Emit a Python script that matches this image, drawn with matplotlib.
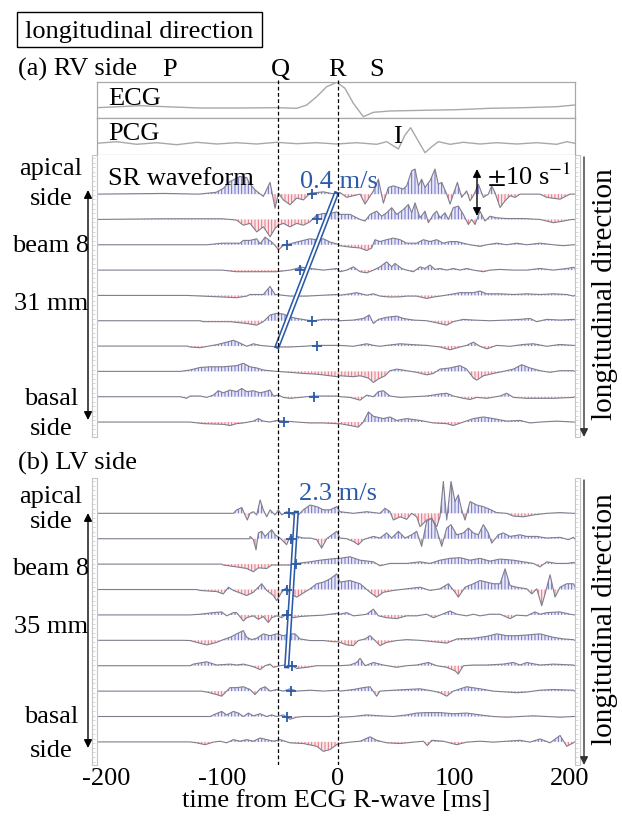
import numpy as np
import matplotlib.pyplot as plt
from matplotlib.patches import Rectangle

W, H = 622, 818
plt.rcParams['font.family'] = 'Liberation Serif'
plt.rcParams['mathtext.fontset'] = 'stix'
plt.rcParams['hatch.linewidth'] = 0.7

# ---- time axis / event markers (ms from ECG R-wave) ----
T0, T1 = -207.8, 204.3
q_time, r_time = -51.5, 0.0
wave_labels = ['P', 'Q', 'R', 'S']
wave_times = [-145, -50, -1, 33.6]

# ---- ECG / PCG (arbitrary units) ----
ecg_t = [-208, -170.7, -142, -119, -84.5, -52.9, -35.6, -27, -18.4, -9.8, -1.1, 6, 13.2, 21.8,
         30.5, 44.8, 73.6, 102.3, 131, 159.8, 188.5, 204.3]
ecg_v = [10.3, 12.3, 11, 10, 10, 10.3, 9.7, 13, 21.3, 31.3, 35.7, 29.7, 14.7, 1.3,
         5.7, 7, 7.7, 8.3, 9.7, 10.3, 11.3, 13]
pcg_t = [-208, -190.8, -173.6, -156.4, -139.1, -121.8, -104.6, -87.4, -70.1, -52.9, -35.6, -18.4,
         -1.1, 16.1, 33.3, 42, 52, 57.8, 62.6, 67.8, 75, 80.8, 86.5, 96.6, 108, 122.4, 136.8,
         154, 171.3, 188.5, 197.2, 204.3]
pcg_v = [11.7, 13.3, 10.7, 12.3, 10.3, 12.7, 11, 12.3, 11, 12.7, 11.3, 12.3,
         11, 12.3, 10.7, 13.3, 6, 20, 27.3, 16.7, 2.3, 8.3, 13.3, 10.7, 12.7, 11, 12.3,
         11, 12.3, 10.7, 13.3, 11.7]

# ---- RV side strain-rate waveforms [1/s], beams from apical to basal ----
rv1_t = [-208, -150, -120, -105, -99, -93, -84.5, -78.7, -76.5, -71.6, -64.4, -58.6, -54.3, -51.4,
         -47.1, -41.4, -35.6, -29.9, -24.1, -12.6, -6.9, -1.1, 1.7, 7.5, 19, 23.3, 30.5, 34.8,
         39.1, 43.4, 47.7, 56.3, 59.2, 63.5, 66.4, 69.3, 72.1, 75, 79.3, 83.6, 86.5, 89.4, 93.7,
         96.6, 99.4, 102.9, 106.6, 110.9, 113.8, 116.7, 121, 125.3, 129.6, 132.5, 135.3, 139.7,
         144, 148.3, 152.6, 157, 174.1, 179.9, 191.4, 200, 204]
rv1_sr = [0, 0.3, 0, 0.8, 2.5, 5.5, 7.7, 7.2, 4.8, 1.9, -1, 5.1, -6.1, 0.4,
          -2.5, -4.6, -1.7, -2.5, 0.4, 1, 0.4, 0, 0.7, -1.4, 0, -4.3, 1.4, 6.5,
          -3.9, 2.9, 3.6, 2.2, 3.6, 10.1, 10.9, 3.6, 6.5, 2.9, 5.8, 10.9, 4.3, 5.1, 0,
          -4.3, 0, 5.1, -1.4, 1.4, -2.9, -0.7, 4.3, -1.4, 0, 3.6, 0.7, -5.8,
          -2.9, -0.7, -1.4, 0, 0, -1.4, -2.2, 0, 0]
rv2_t = [-208, -150, -100, -93.1, -87.4, -81.6, -75.9, -70.1, -64.4, -58.6, -54.3, -51.4, -47.1,
         -41.4, -35.6, -29.9, -24.1, -18.4, -12.6, -6.9, -1.1, 1.7, 10.3, 19, 23.3, 27.6, 33.3,
         37.6, 41.9, 46.3, 50.6, 56.3, 60.6, 63.5, 66.4, 70.7, 75, 77.9, 82.2, 85.1, 87.9, 92.2,
         95.1, 99.4, 103.7, 108, 112.4, 115.2, 118.1, 122.4, 126.7, 131, 136.8, 145.4, 159.8,
         174.1, 185.6, 194.3, 201.4, 204]
rv2_sr = [0, 0.3, 0.3, 0, -0.3, -2.5, -1.7, -5.4, -3.2, -7.5, -3.9, -2.5, -1.7,
          -3.2, -1.7, -2.5, -1, 1.9, 2.6, 2.6, 3.3, 2.2, 2.2, 0, -0.7, 2.2, 3.6,
          1.4, 2.9, 5.1, 2.2, 4.3, 6.5, 2.9, 7.2, 0.7, 3.6, -1.4, 2.2, 3.6, 0.7, 2.9,
          0, 5.1, 5.8, 2.2, -2.2, 0, -2.2, 3.6, -0.7, 1.4, 0.7, 0.4, 0.4,
          0, -1.4, -0.7, 0, 0]
rv3_t = [-208, -113, -100, -84.5, -81.6, -75.9, -70.1, -67.2, -62.9, -57.2, -54.3, -51.4, -47.1,
         -41.4, -35.6, -29.9, -24.1, -18.4, -12.6, -6.9, -1.1, 1.7, 10.3, 19, 24.7, 29, 31.9,
         36.2, 41.9, 47.7, 53.5, 59.2, 67.8, 73.6, 79.3, 85.1, 90.8, 96.6, 102.3, 108, 113.8,
         122.4, 128.2, 136.8, 145.4, 154, 162.7, 174.2, 185.6, 194.3, 202.9, 204]
rv3_sr = [0, 0, 0.7, 0.7, 1.9, 1.9, 2.6, 0.4, 3.3, 1.2, -0.3, -2.2, -0.3,
          0.4, 1.2, 1.9, 2.6, 2.2, 2.6, 1.2, 0.4, -0.4, -1, -1.4, -2.5, -1.4, 2.2,
          1.4, 2.2, 2.9, 2.2, 0.7, 0.7, 2.2, 1.4, 2.2, 0.7, 1.4, 1.4, 0.7, 0,
          -0.7, 0, 0.7, 0, 0.7, 0, 0.7, 0, -0.4, 0, 0]
rv4_t = [-208, -100, -87.4, -60, -52.9, -41.4, -35.6, -32.8, -24.1, -12.6, -1.1, 1.7, 7.5, 13.2,
         19, 24.7, 30.5, 36.2, 41.9, 46.3, 49.1, 54.9, 59.2, 65, 70.7, 75, 79.3, 83.6, 87.9, 93.7,
         99.4, 105.2, 110.9, 116.7, 125.3, 131, 139.7, 151.2, 162.7, 174.2, 185.6, 197.2, 202.9, 204]
rv4_sr = [0, 0, -0.7, -0.7, -0.7, 0, 0.7, 1.4, 0.7, 0, 0.7, -0.7, 0, 1.4,
          -0.7, -1.2, 0, 1.4, 3.6, 1.4, 2.9, 0.7, 0, -0.7, 1.4, 0.7, 2.2, 0.3, 0.7, 0,
          0.7, 0, 0.7, 0, -0.7, 0, 0.3, 0, 0, 0.7, 0, 0.7, 1.2, 1]
rv5_t = [-208, -130, -98.9, -87.4, -78.7, -75.9, -64.4, -58.6, -54.3, -52.9, -41.4, -27, -12.6,
         -1.1, 1.7, 10.3, 16.1, 24.7, 30.5, 36.2, 44.8, 53.5, 59.2, 67.8, 76.4, 82.2, 87.9, 96.6,
         105.2, 116.7, 122.4, 128.2, 139.7, 151.2, 162.7, 174.2, 185.6, 197.2, 202.9, 204]
rv5_sr = [0, 0, -0.7, -1, -0.3, 0.4, 0.4, 3.9, 0.4, 0.4, -0.3, -0.3, 0.1,
          0.4, 0.1, 0.7, 1.2, 0.1, 0.7, -0.3, -0.7, -0.6, -0.3, -0.3, -1.3, -0.7, -0.3, 0.4,
          1.2, 1.2, 1.9, 0.7, 0.7, 0.4, 0.7, 0.4, 0.7, 0.4, -0.3, 0]
rv6_t = [-208, -119, -116, -93.1, -78.7, -70.1, -64.4, -58.6, -52.9, -47.1, -41.4, -35.6, -27,
         -21.3, -12.6, -1.1, 1.7, 13.2, 21.8, 27, 30.5, 34.8, 41.9, 50.6, 56.3, 65, 76.4, 85.1,
         93.7, 99.4, 108, 116.7, 131, 145.4, 156.9, 165.5, 171.3, 179.9, 191.4, 202.9, 204]
rv6_sr = [0, 0, -0.4, -0.4, -1.2, -1.9, -0.4, 2.5, 3.2, 2.9, 1.7, 1, 0.3,
          0, 0.6, 0.6, 0, 0.3, 1, 2.5, -1.2, 0.6, 1.5, 2, 1, 0.3, 0, -0.9,
          -1.9, -0.4, 0.6, 0.3, 0, 0.3, 0.6, 1, -0.4, 0.6, 0.3, 0.6, 0.5]
rv7_t = [-208, -130, -127.6, -119, -104.6, -96, -90.2, -84.5, -78.7, -73, -67.2, -58.6, -52.9,
         -41.4, -29.9, -18.4, -6.9, -1.1, 1.7, 13.2, 24.7, 30.5, 36.2, 41.9, 53.5, 65, 76.4,
         87.9, 96.6, 105.2, 110.9, 116.7, 122.4, 128.2, 136.8, 148.3, 159.8, 168.4, 179.9,
         191.4, 202.9, 204]
rv7_sr = [0, 0, -0.4, -0.7, 0.6, 1.7, 2.5, 1.3, -0.1, 1, 0.3, -0.1, -0.4,
          -0.4, -0.1, 0.3, 0.3, 0.3, 0.3, -0.1, 1, 0.3, -0.1, 0.3, 1, 0.6, 0.3,
          -0.4, -1.6, -0.4, 0.3, 1.7, -0.1, -1.2, 0.3, -0.1, 0.7, 1, -0.1,
          0.7, 0.3, 0.3]
rv8_t = [-208, -136, -127.6, -119, -110.3, -98.9, -87.4, -81.6, -75.9, -70.1, -64.4, -58.6, -52.9,
         -41.4, -29.9, -18.4, -6.9, -1.1, 1.7, 13.2, 19, 26.2, 30.5, 34.8, 40.5, 44.8, 50.6,
         59.2, 67.8, 76.4, 82.2, 87.9, 96.6, 105.2, 110.9, 116.7, 119.6, 125.3, 133.9, 142.5,
         151.2, 158.4, 165.5, 174.2, 182.8, 191.4, 202.9, 204]
rv8_sr = [0, 0, 0.6, 1.7, 2, 2, 2.5, 3.5, 2, 1.5, 0.6, 0.3, 0,
          -0.4, -0.9, -1.2, -1.9, -2.3, -1.9, -2.3, -1.9, -2.9, -4.8, -3.3, -1.9, 0.3, 1,
          0.3, -0.4, -1.5, -0.9, 1, 1.5, 2.5, 1, -2.9, -3.8, -1.9, -0.9, 0,
          1, 2.9, 1.5, 0.3, -0.4, 0.3, 0.3, 0]
rv9_t = [-208, -136, -130.5, -127.6, -119, -113.2, -107.5, -103.2, -98.9, -93.1, -87.4, -83, -78.7,
         -73, -67.2, -62.9, -58.6, -55.7, -51.4, -47.1, -41.4, -32.8, -21.3, -12.6, -1.1, 1.7,
         10.3, 19, 24.7, 30.5, 34.8, 39.1, 44.8, 53.5, 65, 76.4, 87.9, 93.7, 99.4, 108, 113.8,
         119.6, 128.2, 139.7, 145.4, 151.2, 162.7, 174.2, 185.6, 202.9, 204]
rv9_sr = [0, 0, -0.7, 0.3, 0.3, -0.3, 0.7, 2.6, 1.7, 2.9, 2.2, 3.6, 2.2,
          2.6, 1.7, 2.2, 2.9, 0.3, 0.7, -0.3, -0.7, -0.3, 0.3, 0.3, 0.3, 0,
          -0.3, -1.5, 0.7, 0, 2.2, 2.6, 0.3, -0.3, 0, 0.3, 1.2, 1.5, 0.3, -0.7, -1.2,
          -0.3, -0.7, 0.3, 1.5, -0.3, -0.7, -0.7, -0.7, -0.3, 0]
rv10_t = [-208, -127.6, -116, -98.9, -93.1, -87.4, -81.6, -73, -68.7, -64.4, -58.6, -52.9, -45.7,
          -35.6, -24.1, -12.6, -1.1, 1.7, 10.3, 17.5, 21.8, 26.2, 30.5, 39.1, 44.8, 50.6, 59.2,
          70.7, 82.2, 93.7, 99.4, 108, 116.7, 125.3, 133.9, 145.4, 156.9, 165.5, 174.2, 188.5,
          202.9, 204]
rv10_sr = [0, 0, -0.7, -1, -1.5, -0.7, -0.4, 0.4, 1.5, 0.4, 0, 0.7, 0.4,
           0, -0.4, -0.4, -0.7, -0.7, -1.5, -2.2, 0, 4.4, 2.5, 1.5, 2.2, 0.7, 1.5,
           0.7, -0.4, -0.7, -1.5, 0, 1.5, 2.2, 1.5, 0.4, 0.7, -0.4, 0, 0.4,
           0, 0]

# ---- LV side strain-rate waveforms [1/s] ----
lv1_t = [-208, -90.2, -87.4, -83, -80.2, -78.2, -75.9, -73, -70.1, -67.2, -64.4, -61.5, -58.6,
         -54.3, -51.4, -48.6, -44.3, -38.5, -34.2, -29.9, -24.1, -18.4, -12.6, -6.9, -1.1, 1.7,
         13.2, 24.7, 36.2, 40.5, 44.8, 47.7, 53.5, 59.2, 63.5, 67.8, 70.7, 76.4, 80.8, 85.1,
         87.9, 90.8, 93.7, 97.4, 100.9, 103.7, 106.6, 109.5, 113.8, 119.6, 125.3, 131, 136.8,
         145.4, 151.2, 159.8, 168.4, 179.9, 191.4, 202.9, 204]
lv1_sr = [0, 0, 1.5, 2.5, -0.7, -2.9, 0, 0.7, -0.7, 5.8, 1.5, -1.5, 1.5,
          -0.7, 1.5, -0.7, 0.7, -0.7, -0.7, 1.5, 3.6, 2.9, 1.5, 1.5, 2.9, 0.7,
          0, 0.7, 0, 2.2, 0.7, -2.9, -1.5, -2.6, 0, -1.5, -5.8, -2.9, -2.2, -5.8,
          -1.5, 13.8, -2.9, 13.8, 5.1, 8, 1.5, -2.9, 5.1, 3.6, 2.9, 1.7, 0.3,
          0, -1.2, -1.5, -0.7, 0, 0.3, 0, 0]
lv2_t = [-208, -76, -75.9, -73, -70.7, -68.7, -65.8, -62.9, -57.2, -54.3, -50, -44.3, -41.4,
         -35.6, -29.9, -24.1, -18.4, -14.1, -9.8, -1.1, 1.7, 7.5, 13.2, 17.5, 21.8, 30.5, 36.2,
         41.9, 46.3, 52, 57.8, 63.5, 67.8, 72.1, 76.4, 80.8, 85.1, 89.4, 93.7, 97.4, 102.3, 108,
         112.4, 116.7, 121, 125.3, 129.6, 132.5, 138.2, 142.5, 148.3, 156.9, 162.7, 171.3,
         179.9, 191.4, 198.6, 202.9, 204]
lv2_sr = [0, 0, 1, -0.4, -4.8, 2.5, 3.2, 1, 3.9, 1.7, 0.3, -2.6, 1,
          1, 0.3, 0.3, -0.4, -4.1, 0, 3.2, 0.3, 0, -1.2, -2.6, -0.4, 1, 0.3,
          2.5, 0.3, 3.2, 0.3, 1.7, 3.2, -3.3, 7.5, 9, 3.9, -3.3, 4.6, 6.1, 1.7, 2.5,
          4.6, 2.5, 1.7, 6.1, 2.5, -1.9, 1.7, 2.5, 1, 1.7, 1, 1,
          0.3, 0.6, -0.4, 0.6, 0]
lv3_t = [-208, -100, -98.9, -87.4, -78.7, -73, -68.7, -61.5, -57.2, -52.9, -41.4, -35.6, -24.1,
         -15.5, -6.9, -1.1, 1.7, 10.3, 19, 30.5, 36.2, 44.8, 59.2, 70.7, 79.3, 87.9, 96.6, 105.2,
         113.8, 122.4, 131, 139.7, 151.2, 159.8, 168.4, 174.2, 179.9, 188.5, 197.2, 202.9, 204]
lv3_sr = [0, 0, -0.4, -1.2, -1.9, -3.3, -1.6, -1.9, -0.4, -0.4, -0.4, 0.3, 1,
          1.7, 2.2, 2.5, 2.5, 3.2, 1.7, 1, -0.7, 0.3, 0.3, 1, 0.3, 1.7, 2.5, 2.8,
          1.7, 2.5, 1.3, 2.2, 1.7, 1, 0.3, -1.2, 1, 0.3, 0.3, 0.7, 0.5]
lv4_t = [-208, -122, -119, -104.6, -98.9, -94.5, -90.2, -84.5, -78.7, -73, -70.1, -65.8, -61.5,
         -55.7, -52.9, -48.6, -44.3, -41.4, -35.6, -29.9, -24.1, -18.4, -12.6, -6.9, -1.1, 1.7,
         10.3, 19, 27.6, 33.3, 39.1, 47.7, 59.2, 70.7, 79.3, 87.9, 95.1, 100.9, 103.7, 109.5,
         116.7, 122.4, 128.2, 133.9, 139.7, 144, 148.3, 154, 162.7, 167, 171.3, 175.6, 178.5,
         182.8, 187.1, 191.4, 197.2, 202.9, 204]
lv4_sr = [0, 0, -0.4, -0.9, -1.9, 1, -0.4, -1.5, -2.6, -1.2, 0.3, 2.5, -0.4,
          -2.6, -4.8, -1.2, 1, -1.9, -3.3, -1.5, 0.3, 2.5, 3.2, 4.6, 6.8, 3.2,
          3.9, 2.5, -1.2, -3.3, -1.2, -0.4, 0.3, 1, -0.4, 0.3, 2.5, -1.2, -3.3, 1,
          2.5, 3.9, 3.2, 2.5, 2.5, 9, 1.7, 1, 0.3, -1.9, 0.3, -7, -1.9,
          6.4, -3.3, 1, 2.5, 2.5, 1.5]
lv5_t = [-208, -127.6, -119, -107.5, -100.3, -96, -90.2, -87.4, -81.6, -78.7, -73, -68.7, -64.4,
         -60.1, -57.2, -52.9, -48.6, -44.3, -38.5, -32.8, -24.1, -12.6, -1.1, 1.7, 7.5, 13.2,
         19, 24.7, 30.5, 34.8, 41.9, 50.6, 59.2, 67.8, 76.4, 82.2, 87.9, 96.6, 102.3, 110.9,
         116.7, 122.4, 131, 139.7, 148.3, 154, 162.7, 169.9, 174.2, 179.9, 191.4, 200, 204]
lv5_sr = [0, 0, 0.3, 1, 1.3, -0.4, 1, 1, -2.6, -1.2, -0.4, -1.9, -0.7,
          -3.3, -1.2, -0.4, -1.2, 0.3, -1.2, -0.7, -0.4, -0.1, 0.7, 0.3, 1, -0.4,
          -0.1, 0.3, 2.5, -0.4, -1.2, -1.6, -0.4, -0.4, 0.3, -1.2, -0.1, 1.7, 0.3, -0.4,
          0.3, -0.4, 0.3, 0.3, -1.6, -0.1, -0.4, 1.3, 0.3, 1, 1.3, 0.3, 0]
lv6_t = [-208, -133, -127.6, -121.8, -113.2, -104.6, -98.9, -93.1, -87.4, -81.6, -78.7, -74.4,
         -70.1, -64.4, -58.6, -52.9, -47.1, -41.4, -37.1, -32.8, -24.1, -12.6, -4, -1.1, 1.7,
         7.5, 13.2, 17.5, 23.3, 27.6, 31.9, 36.2, 41.9, 50.6, 59.2, 70.7, 82.2, 93.7, 102.3,
         116.7, 128.2, 136.8, 145.4, 154, 162.7, 174.2, 185.6, 194.3, 202.9, 204]
lv6_sr = [0, 0, -0.1, -0.9, -2, -0.9, 0.3, 1.3, 2.8, 4.2, 1.3, 0.3,
          0.9, 2.8, 2, 2.8, 2, 2.8, 2.8, 0.6, -0.1, -0.1, -0.6, -0.6, -0.9,
          -2, -2.3, -0.1, 0.6, 2, -0.1, -2.3, -0.9, -0.1, 0.3, 0, -0.6, -1.2, 0.6,
          0.9, 1.7, 2.8, 2, 2, 2.3, 2.8, 1.3, 0.6, 0.3, 0]
lv7_t = [-208, -127.6, -124.7, -113.2, -104.6, -93.1, -87.4, -81.6, -75.9, -71.6, -67.2, -62.9,
         -58.6, -55.7, -50, -45.7, -39.9, -35.6, -27, -18.4, -6.9, -1.1, 1.7, 10.3, 16.1, 19,
         23.3, 30.5, 39.1, 50.6, 59.2, 67.8, 77.9, 85.1, 93.7, 100.9, 103.7, 108, 116.7, 128.2,
         142.5, 151.2, 156.9, 162.7, 174.2, 185.6, 202.9, 204]
lv7_sr = [0, 0, 0.7, 1.7, 0.3, 0.7, 0.3, 0.7, 0, -0.7, -1.7, 0,
          0.7, -0.7, 0, 0.3, 0, -1.2, -0.7, 0, 0, 0, 0, 0.3, 1.4, 3.2,
          0, 1.4, 0.3, -0.7, 0, 0.3, 1.4, 0, -0.7, -2.2, -3.6, 0, 0.3, 0.3,
          0.7, 1.4, 0.3, 1.4, 0.3, 0.7, 0.3, 0]
lv8_t = [-208, -118, -113.2, -104.6, -100.3, -96, -93.1, -87.4, -81.6, -75.9, -71.6, -67.2,
         -62.9, -58.6, -52.9, -47.1, -41.4, -35.6, -24.1, -12.6, -1.1, 1.7, 13.2, 21.8, 27.6,
         33.3, 36.2, 47.7, 59.2, 70.7, 82.2, 87.9, 93.7, 99.4, 110.9, 122.4, 133.9, 145.4, 154,
         162.7, 174.2, 185.6, 202.9, 204]
lv8_sr = [0, 0, -0.4, -1.5, -2.2, 0, 1.5, 1.5, 1.9, 0.7, -1.5, 1,
          1.9, 0, 0.7, 0, 1, 0, 0.4, 0, 0.4, 0, 0.7, 1.5, 1.9,
          -2.2, 0, 0.4, 0.7, 1, 0, -0.7, -2.2, 0, 1.9, 1, 0, -0.4, -0.7,
          -0.4, 0.4, 0.7, 0.4, 0]
lv9_t = [-208, -110, -107.5, -100.3, -96, -90.2, -85.9, -81.6, -77.3, -73, -67.2, -61.5, -57.2,
         -52.9, -47.1, -41.4, -35.6, -29.9, -18.4, -6.9, -1.1, 1.7, 13.2, 24.7, 36.2, 47.7, 59.2,
         67.8, 76.4, 87.9, 99.4, 110.9, 122.4, 133.9, 145.4, 156.9, 168.4, 179.9, 191.4, 202.9, 204]
lv9_sr = [0, 0, 0.7, 2.2, 0.7, 2.2, 1.5, 0, 1.5, 0.3, 1.2, 0, 0.7,
          0, 0.7, -1.2, -0.3, 0, 0, 0, 0.3, -0.3, 0, 0.7, 0.3, 0, 0.7,
          1.5, 1.7, 1.7, 1.2, 1.5, 0.7, 0, -0.3, 0, 0.3, 0, -0.3, 0, 0]
lv10_t = [-208, -127.6, -121.8, -114.7, -107.5, -101.7, -96, -90.2, -84.5, -78.7, -73, -67.2,
          -61.5, -55.7, -50, -41.4, -29.9, -18.4, -12.6, -6.9, -1.1, 1.7, 10.3, 19, 27.6, 33.3,
          41.9, 53.5, 65, 73.6, 77, 80.8, 90.8, 102.3, 110.9, 122.4, 133.9, 145.4, 156.9, 165.5,
          174.2, 182.8, 191.4, 197.2, 202.9, 204]
lv10_sr = [0, 0, -0.4, -1.2, -0.1, 0.3, -0.4, 1, 0.3, 1, 0.3, 1.7,
           1, 0.3, 1, -0.4, -0.7, -1.9, -4.1, -3.3, -1.2, -0.7, -0.1, 0.3, 2.2, 0.7,
           -0.4, -0.7, -0.1, 0.3, -1.6, 0.7, 0.3, -1.2, -0.1, 0.3, -0.1, 0.3, 0.7, -0.1,
           1.3, -0.4, 2.8, -1.9, -0.4, 0]

# ---- onset markers (+) and propagation lines ----
rv_mark_beam = [0, 1, 2, 3, 5, 6, 8, 9]
rv_mark_t = [-22.7, -18.4, -44.2, -32.8, -22.7, -18.4, -20.7, -46.3]
lv_mark_beam = [0, 1, 2, 3, 4, 6, 7, 8]
lv_mark_t = [-42.2, -40.5, -36.5, -44.2, -44.2, -40, -40.8, -44.2]
rv_line_beam, rv_line_t = [6, 0], [-52.3, -1.7]
lv_line_beam, lv_line_t = [6, 0], [-44.2, -36.0]
rv_speed, lv_speed = '0.4 m/s', '2.3 m/s'

SP = 11.0  # 1/s between neighbouring beams
BLUE = '#2a5aa8'
POS_FACE, POS_HATCH = '#e8e8f6', '#6c6cc6'
NEG_FACE, NEG_HATCH = '#fce8ea', '#e8707e'
FS = 19


def px(x0, y0, x1, y1):
    return [x0 / W, 1 - y1 / H, (x1 - x0) / W, (y1 - y0) / H]


fig = plt.figure(figsize=(W / 100, H / 100), dpi=100)


def signal_box(rect, t, v, ylim):
    ax = fig.add_axes(px(*rect))
    ax.plot(t, v, color='#a8a8a8', lw=1.0)
    ax.set_xlim(T0, T1)
    ax.set_ylim(*ylim)
    ax.set_xticks([])
    ax.set_yticks([])
    for s in ax.spines.values():
        s.set_color('#a8a8a8')
        s.set_linewidth(0.9)
    return ax


def sr_panel(rect, ylim, traces, mark_beam, mark_t, line_beam, line_t):
    ax = fig.add_axes(px(*rect))
    ax.set_xlim(T0, T1)
    ax.set_ylim(*ylim)
    for k, (t, v) in enumerate(traces):
        t = np.asarray(t, float)
        v = np.asarray(v, float)
        base = -SP * k
        ax.fill_between(t, base, base + v, where=v >= 0, interpolate=True,
                        facecolor=POS_FACE, edgecolor=POS_HATCH, hatch='|||||', linewidth=0)
        ax.fill_between(t, base, base + v, where=v <= 0, interpolate=True,
                        facecolor=NEG_FACE, edgecolor=NEG_HATCH, hatch='|||||', linewidth=0)
        ax.plot(t, base + v, color='#7e7e8e', lw=0.8)
    ly = [-SP * b for b in line_beam]
    ax.plot(line_t, ly, color=BLUE, lw=3.8, solid_capstyle='projecting', zorder=5)
    ax.plot(line_t, ly, color='white', lw=1.5, solid_capstyle='butt', zorder=6)
    ax.plot(mark_t, [-SP * b for b in mark_beam], '+', color=BLUE, ms=6.5, mew=1.3, zorder=7)
    ax.set_yticks([])
    for s in ax.spines.values():
        s.set_visible(False)
    return ax


signal_box((97, 82, 575, 118), ecg_t, ecg_v, (0, 36))
signal_box((97, 118, 575, 155), pcg_t, pcg_v, (0, 37))

rv_traces = [(rv1_t, rv1_sr), (rv2_t, rv2_sr), (rv3_t, rv3_sr), (rv4_t, rv4_sr), (rv5_t, rv5_sr),
             (rv6_t, rv6_sr), (rv7_t, rv7_sr), (rv8_t, rv8_sr), (rv9_t, rv9_sr), (rv10_t, rv10_sr)]
lv_traces = [(lv1_t, lv1_sr), (lv2_t, lv2_sr), (lv3_t, lv3_sr), (lv4_t, lv4_sr), (lv5_t, lv5_sr),
             (lv6_t, lv6_sr), (lv7_t, lv7_sr), (lv8_t, lv8_sr), (lv9_t, lv9_sr), (lv10_t, lv10_sr)]

ax_rv = sr_panel((97, 155, 575, 437), (-105.5, 17), rv_traces,
                 rv_mark_beam, rv_mark_t, rv_line_beam, rv_line_t)
ax_rv.set_xticks([])
ax_lv = sr_panel((97, 478, 575, 765), (-109, 15.3), lv_traces,
                 lv_mark_beam, lv_mark_t, lv_line_beam, lv_line_t)
ax_lv.set_xticks([-200, -100, 0, 100, 200])
ax_lv.set_xticklabels(['-200', '-100', '0', '100', '200'], fontsize=FS)
ax_lv.tick_params(axis='x', length=0, pad=2.5)
ax_lv.set_xlabel('time from ECG R-wave [ms]', fontsize=FS, labelpad=0)

ax_rv.text(-198, 3.9, 'SR waveform', fontsize=FS, va='baseline')
ax_rv.text(-33, 2.6, rv_speed, fontsize=FS, color=BLUE, va='baseline')
ax_lv.text(-34, 5.7, lv_speed, fontsize=FS, color=BLUE, va='baseline')

# dashed Q / R reference lines
vax = fig.add_axes(px(97, 80, 575, 765))
vax.set_xlim(T0, T1)
vax.set_ylim(0, 1)
vax.axis('off')
for tt in (q_time, r_time):
    vax.axvline(tt, color='k', lw=0.9, ls=(0, (3, 2)))

# overlay in pixel coordinates for the labels and decorations
ov = fig.add_axes([0, 0, 1, 1])
ov.set_xlim(0, W)
ov.set_ylim(H, 0)
ov.axis('off')

ov.add_patch(Rectangle((17, 12), 245, 35, fill=False, ec='k', lw=1.0))
ov.text(139.5, 38, 'longitudinal direction', fontsize=FS, ha='center', va='baseline')
ov.text(18, 76, '(a) RV side', fontsize=FS, va='baseline')
ov.text(18, 470, '(b) LV side', fontsize=FS, va='baseline')
for lab, tt in zip(wave_labels, wave_times):
    ov.text(338 + 1.16 * tt, 76, lab, fontsize=FS, ha='center', va='baseline')
ov.text(108, 105, 'ECG', fontsize=FS, va='baseline')
ov.text(108, 140, 'PCG', fontsize=FS, va='baseline')
ov.text(397, 143, 'I', fontsize=FS, ha='center', va='baseline')

ov.text(487, 185, r'$\pm$10 s$^{-1}$', fontsize=FS, va='baseline')
ov.annotate('', xy=(477, 169), xytext=(477, 216),
            arrowprops=dict(arrowstyle='<|-|>', color='k', lw=1.0, mutation_scale=12, shrinkA=0, shrinkB=0))

for (y0, y1), labs in [((155, 437), [('apical', 175), ('side', 205), ('beam 8', 252),
                                      ('31 mm', 310), ('basal', 405), ('side', 435)]),
                       ((478, 765), [('apical', 503), ('side', 528), ('beam 8', 575),
                                      ('35 mm', 633), ('basal', 723), ('side', 757)])]:
    for s, yb in labs:
        ov.text(51, yb, s, fontsize=FS, ha='center', va='baseline')
    # rulers on both sides
    for xr in (92, 575):
        ov.add_patch(Rectangle((xr, y0), 5, y1 - y0, fill=False, ec='#c4c4c4', lw=0.8))
        ov.hlines(np.arange(y0 + 3, y1, 4.6), xr, xr + 2.5, color='#c8c8c8', lw=0.5)
    # apical <-> basal arrow and longitudinal direction arrow
    ov.annotate('', xy=(88, y0 + 35), xytext=(88, y1 - 17),
                arrowprops=dict(arrowstyle='<|-|>', color='k', lw=1.0, mutation_scale=12, shrinkA=0, shrinkB=0))
    ov.annotate('', xy=(584, y1), xytext=(584, y0 + 2),
                arrowprops=dict(arrowstyle='-|>', color='#333333', lw=1.0, mutation_scale=12, shrinkA=0, shrinkB=0))
    ov.text(605, (y0 + y1) / 2 - 2, 'longitudinal direction', fontsize=21, rotation=90,
            ha='center', va='center')

fig.savefig('out.png', dpi=100)
